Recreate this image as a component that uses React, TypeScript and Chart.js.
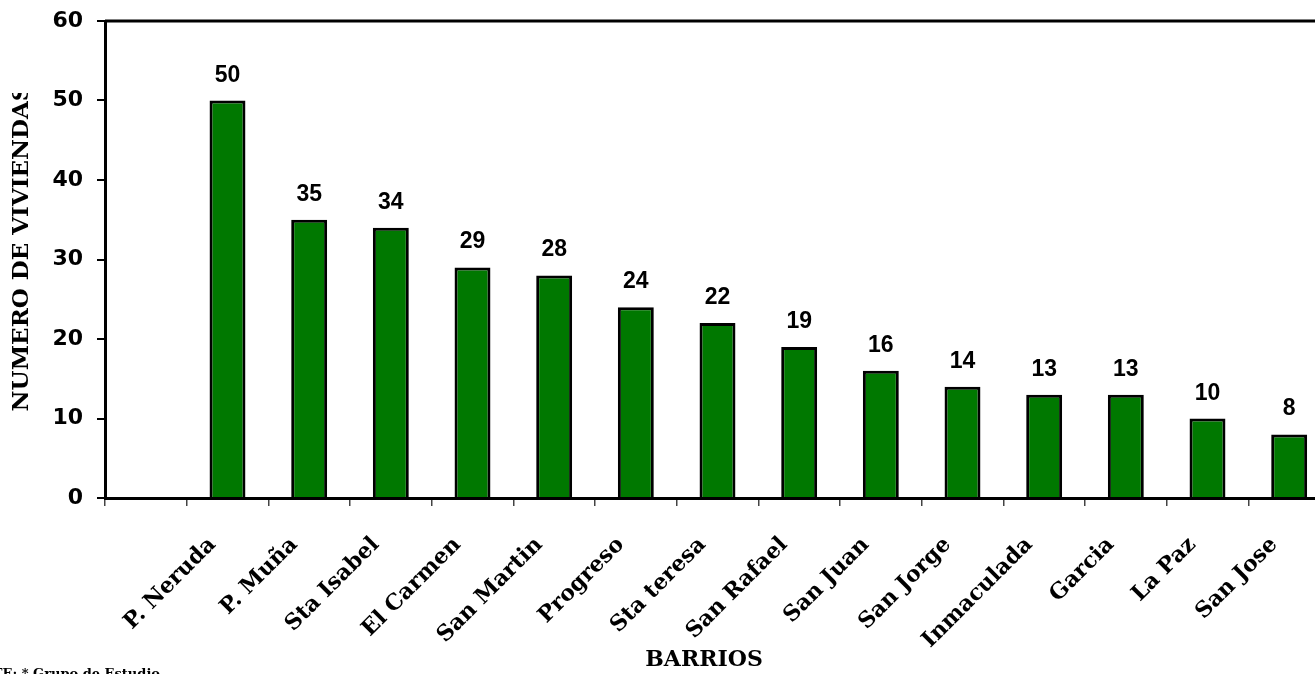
import { useEffect, useRef } from "react";
import { Chart, registerables } from "chart.js";

Chart.register(...registerables);

const barrios = [
  "P. Neruda",
  "P. Muña",
  "Sta Isabel",
  "El Carmen",
  "San Martin",
  "Progreso",
  "Sta teresa",
  "San Rafael",
  "San Juan",
  "San Jorge",
  "Inmaculada",
  "Garcia",
  "La Paz",
  "San Jose",
];
const viviendas = [50, 35, 34, 29, 28, 24, 22, 19, 16, 14, 13, 13, 10, 8];
const yTicks = [0, 10, 20, 30, 40, 50, 60];
const xTitle = "BARRIOS";
const yTitle = "NUMERO DE VIVIENDAS";
const source = "FUENTE: * Grupo de Estudio";

const SERIF = "'DejaVu Serif', serif";
const SANS = "'Liberation Sans', Arial, sans-serif";

export default function App() {
  const ref = useRef<HTMLCanvasElement | null>(null);

  useEffect(() => {
    if (!ref.current) return;
    const labels = ["", ...barrios];
    const data = [null, ...viviendas];

    const decor = {
      id: "decor",
      afterDatasetsDraw(chart: any) {
        const ctx = chart.ctx;
        const meta = chart.getDatasetMeta(0);
        ctx.save();
        ctx.fillStyle = "#000";
        ctx.font = `bold 23px ${SANS}`;
        ctx.textAlign = "center";
        ctx.textBaseline = "alphabetic";
        meta.data.forEach((bar: any, i: number) => {
          const v = data[i];
          if (v === null || v === undefined) return;
          ctx.fillText(String(v), bar.x, bar.y - 19);
        });
        ctx.restore();
      },
      afterDraw(chart: any) {
        const ctx = chart.ctx;
        const a = chart.chartArea;
        ctx.save();
        // frame
        ctx.strokeStyle = "#000";
        ctx.lineWidth = 3;
        ctx.beginPath();
        ctx.moveTo(a.left, a.top);
        ctx.lineTo(a.right, a.top);
        ctx.lineTo(a.right, a.bottom);
        ctx.stroke();
        // x title
        ctx.fillStyle = "#000";
        ctx.font = `bold 22px ${SERIF}`;
        ctx.textAlign = "center";
        ctx.textBaseline = "middle";
        ctx.fillText(xTitle, a.left + 599, 660);
        // y title (clipped at top like the reference)
        ctx.save();
        ctx.beginPath();
        ctx.rect(0, 93, 100, 600);
        ctx.clip();
        ctx.translate(22, 248);
        ctx.rotate(-Math.PI / 2);
        ctx.font = `bold 23px ${SERIF}`;
        ctx.textAlign = "center";
        ctx.textBaseline = "middle";
        ctx.fillText(yTitle, 0, 0);
        ctx.restore();
        // source note
        ctx.font = `bold 13px ${SERIF}`;
        ctx.textAlign = "right";
        ctx.textBaseline = "alphabetic";
        ctx.fillText(source, 160, 678);
        ctx.restore();
      },
    };

    const chart = new Chart(ref.current, {
      type: "bar",
      data: {
        labels,
        datasets: [
          {
            data,
            backgroundColor: "#007800",
            borderColor: "#000",
            borderWidth: 3,
            barPercentage: 0.88,
            categoryPercentage: 0.5,
          },
        ],
      },
      options: {
        responsive: false,
        animation: false,
        layout: { padding: { top: 21, right: 15, left: 0, bottom: 0 } },
        plugins: {
          legend: { display: false },
          tooltip: { enabled: false },
          title: { display: false },
        },
        scales: {
          x: {
            offset: true,
            grid: {
              offset: true,
              drawOnChartArea: false,
              drawTicks: true,
              tickLength: 8,
              color: "#444",
              lineWidth: 1.5,
            },
            border: { display: true, color: "#000", width: 3 },
            ticks: {
              autoSkip: false,
              maxRotation: 45,
              minRotation: 45,
              padding: 26,
              labelOffset: -15,
              color: "#000",
              font: { family: SERIF, weight: "bold", size: 22 },
            },
            afterFit: (s: any) => {
              s.height = 176;
              s.paddingLeft = 0;
              s.paddingRight = 0;
            },
          },
          y: {
            min: 0,
            max: 60,
            afterBuildTicks: (s: any) => {
              s.ticks = yTicks.map((v) => ({ value: v }));
            },
            ticks: {
              padding: 14,
              color: "#000",
              font: { family: "'DejaVu Sans', sans-serif", weight: "bold", size: 22 },
            },
            grid: {
              drawOnChartArea: false,
              tickLength: 8,
              color: "#000",
              lineWidth: 2,
            },
            border: { display: true, color: "#000", width: 3 },
            afterFit: (s: any) => {
              s.width = 105;
              s.paddingTop = 0;
              s.paddingBottom = 0;
            },
          },
        },
      },
      plugins: [decor],
    } as any);

    return () => chart.destroy();
  }, []);

  return (
    <div
      style={{
        position: "fixed",
        left: 0,
        top: 0,
        width: 1315,
        height: 674,
        overflow: "hidden",
        background: "#fff",
      }}
    >
      <canvas ref={ref} width={1345} height={674} style={{ display: "block" }} />
    </div>
  );
}
